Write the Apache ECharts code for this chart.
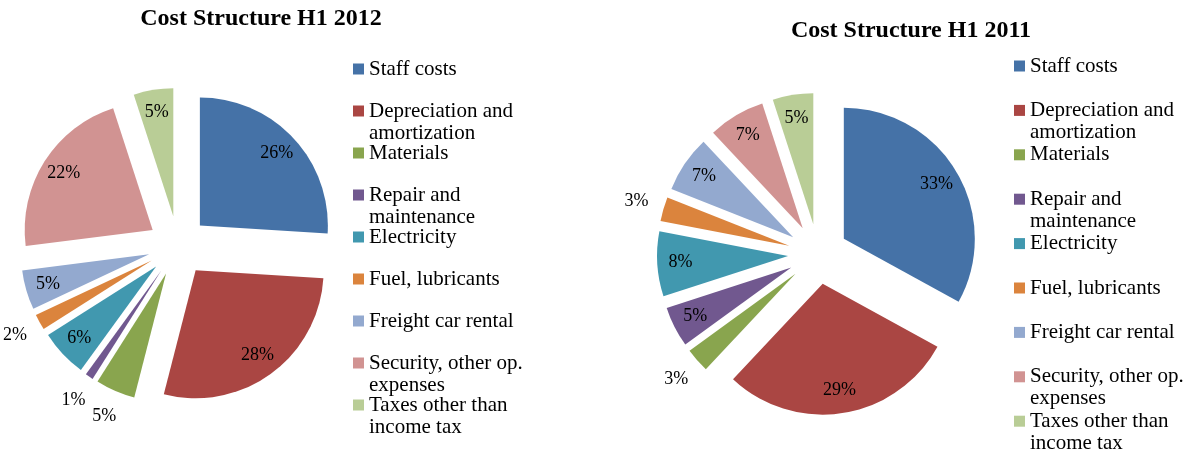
<!DOCTYPE html>
<html><head><meta charset="utf-8">
<script src="https://cdn.jsdelivr.net/npm/echarts@6/dist/echarts.min.js"></script>
<style>html,body{margin:0;padding:0;background:#fff}#c{width:1191px;height:457px}</style>
</head><body><div id="c"></div>
<script>
const categories = ['Staff costs', 'Depreciation and\namortization', 'Materials', 'Repair and\nmaintenance', 'Electricity', 'Fuel, lubricants', 'Freight car rental', 'Security, other op.\nexpenses', 'Taxes other than\nincome tax'];
const values2012 = [26, 28, 5, 1, 6, 2, 5, 22, 5];
const values2011 = [33, 29, 3, 5, 8, 3, 7, 7, 5];
const titles = ['Cost Structure H1 2012', 'Cost Structure H1 2011'];
const colors = ['#4572A7', '#AA4643', '#89A54E', '#71588F', '#4198AF', '#DB843D', '#93A9CF', '#D19392', '#B9CD96'];

const FONT = '"Liberation Serif", "Times New Roman", serif';
const OFFSET = 30;

function pieBase(center, radius) {
  return {
    type: 'pie', center: center, radius: radius, startAngle: 90, clockwise: true,
    selectedMode: 'multiple', selectedOffset: OFFSET, avoidLabelOverlap: false,
    emphasis: { disabled: true }, select: { itemStyle: { borderWidth: 0 } },
    labelLine: { show: false }, itemStyle: { borderWidth: 0 }
  };
}

function makeSeries(values, center, R, outsideIdx) {
  const main = Object.assign(pieBase(center, R), {
    label: { show: false },
    data: values.map((v, i) => ({ name: categories[i], value: v, selected: true, itemStyle: { color: colors[i] } }))
  });
  const labelStyle = { position: 'inside', formatter: '{c}%', color: '#000', fontFamily: FONT, fontSize: 18 };
  const inner = Object.assign(pieBase(center, [R * 0.6, R]), {
    silent: true,
    label: Object.assign({ show: true }, labelStyle),
    data: values.map((v, i) => ({ name: categories[i], value: v, selected: true,
      itemStyle: { color: 'rgba(0,0,0,0)' }, label: { show: outsideIdx.indexOf(i) < 0 } }))
  });
  const outer = Object.assign(pieBase(center, [R, R + 50]), {
    silent: true,
    label: Object.assign({ show: true }, labelStyle),
    data: values.map((v, i) => ({ name: categories[i], value: v, selected: true,
      itemStyle: { color: 'rgba(0,0,0,0)' }, label: { show: outsideIdx.indexOf(i) >= 0 } }))
  });
  return [main, inner, outer];
}

const s2012 = makeSeries(values2012, [178, 246], 128, [2, 3, 5]);
const s2011 = makeSeries(values2011, [818, 254], 131, [2, 5]);

// one legend component per entry so two-line names hang below their swatch
const LINE_H = 22;
function legendsFor(left, firstCenter, pitch) {
  return categories.map((name, i) => {
    const twoLine = name.indexOf('\n') >= 0;
    const blockH = twoLine ? LINE_H * 3 : LINE_H;
    const c = firstCenter + i * pitch;
    return {
      orient: 'vertical', left: left, top: c - blockH / 2, padding: 0, itemWidth: 11, itemHeight: 11,
      icon: 'rect', selectedMode: false, itemStyle: { borderWidth: 0 },
      formatter: n => (n.indexOf('\n') >= 0 ? '\n' + n : n),
      textStyle: { fontFamily: FONT, fontSize: 21, lineHeight: LINE_H, color: '#000' },
      data: [name]
    };
  });
}

const titleStyle = { fontFamily: FONT, fontWeight: 'bold', fontSize: 24, color: '#000' };
const chart = echarts.init(document.getElementById('c'));
chart.setOption({
  animation: false,
  title: [
    { text: titles[0], left: 261, top: 7, textAlign: 'center', padding: 0, textStyle: titleStyle },
    { text: titles[1], left: 911, top: 19, textAlign: 'center', padding: 0, textStyle: titleStyle }
  ],
  legend: legendsFor(353, 69, 42).concat(legendsFor(1014, 66, 44.4)),
  series: [s2012[0], s2011[0], s2012[1], s2012[2], s2011[1], s2011[2]]
});
</script></body></html>
